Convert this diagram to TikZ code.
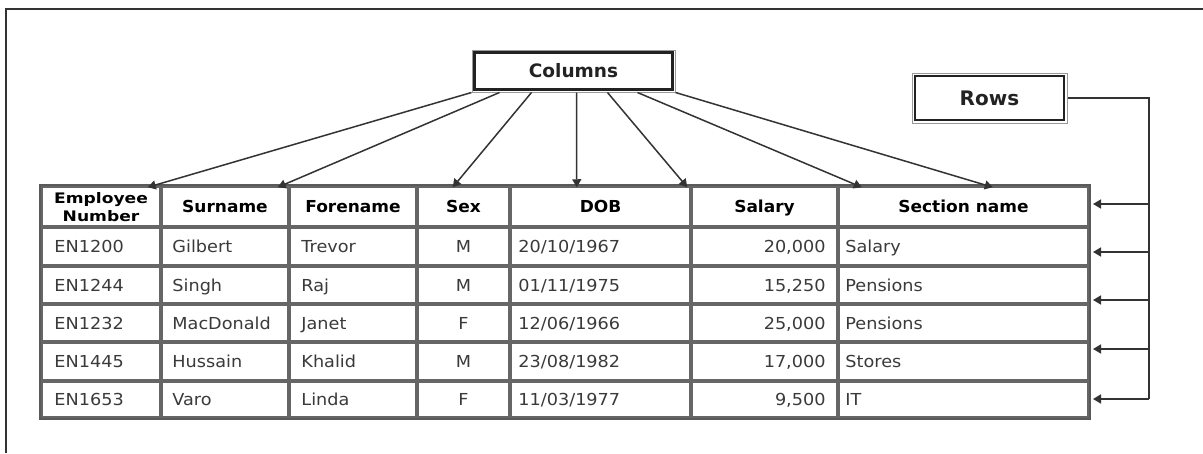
\documentclass[tikz,border=0pt]{standalone}
\usepackage{fontspec}
\setmainfont{DejaVu Sans}
\newfontfamily\datafont{DejaVu Sans}[FakeStretch=1.07]
\newfontfamily\headfont{DejaVu Sans}[FakeStretch=1.03]
\newfontfamily\empfont{DejaVu Sans}[FakeStretch=1.18]
\usetikzlibrary{arrows.meta,fit}

\definecolor{gridgray}{HTML}{666666}
\definecolor{edgegray}{HTML}{5A5A5A}
\definecolor{inkdark}{HTML}{333333}
\definecolor{textdata}{HTML}{3A3A3A}
\definecolor{framegray}{HTML}{9A9A9A}
\definecolor{titleink}{HTML}{222222}

\tikzset{
  cellbox/.style={draw=gridgray, line width=2pt, inner sep=-1.25pt, outer sep=0pt},
  dat/.style={font=\datafont\fontsize{16.5}{19}\selectfont, text=textdata,
    inner sep=0pt, text height=12pt, text depth=0pt},
  hdr/.style={font=\headfont\bfseries\fontsize{16.5}{19}\selectfont, text=black,
    inner sep=0pt, text height=12pt, text depth=0pt},
  empnode/.style={font=\empfont\bfseries\fontsize{14.5}{18}\selectfont, text=black,
    inner sep=0pt, align=center},
  titlebox/.style={draw=framegray, line width=1pt, inner sep=0pt, text depth=0pt,
    text=titleink},
  innerframe/.style={draw=titleink, line width=2.5pt},
  arr/.style={draw=inkdark, line width=1.5pt, -{Triangle[width=9pt,length=8pt]}},
  conn/.style={draw=inkdark, line width=1.5pt},
}

% one table row of seven cells: #1 row id, #2 top, #3 bottom
\newcommand\rowcells[3]{%
  \foreach \i/\xl/\xr in {1/41/161,2/161/289,3/289/417,4/417/510,5/510/691,6/691/838,7/838/1089}
    \node[cellbox, fit={(\xl,#2) (\xr,#3)}] (c#1-\i) {};
}
% the texts of one data row
\newcommand\datarow[8]{%
  \node[dat, anchor=west] (t#1-1) at ([xshift=12pt]c#1-1.west) {#2};
  \node[dat, anchor=west] (t#1-2) at ([xshift=10pt]c#1-2.west) {#3};
  \node[dat, anchor=west] (t#1-3) at ([xshift=11pt]c#1-3.west) {#4};
  \node[dat] (t#1-4) at (c#1-4.center) {#5};
  \node[dat, anchor=west] (t#1-5) at ([xshift=7pt]c#1-5.west) {#6};
  \node[dat, anchor=east] (t#1-6) at ([xshift=-11pt]c#1-6.east) {#7};
  \node[dat, anchor=west] (t#1-7) at ([xshift=6pt]c#1-7.west) {#8};
}

\begin{document}
\begin{tikzpicture}[x=1pt,y=-1pt]
\useasboundingbox (0,0) rectangle (1203,453);
\fill[white] (0,0) rectangle (1203,453);

% frame edges
\draw[inkdark, line width=1.5pt] (6,453) -- (6,9) -- (1203,9);

% title boxes
\node[titlebox, minimum width=203pt, minimum height=42pt, text height=13.5pt,
  font=\bfseries\fontsize{18.5}{22}\selectfont] (cols) at (573.5,71) {Columns};
\draw[innerframe] ([shift={(3pt,-3pt)}]cols.north west) rectangle ([shift={(-3pt,3pt)}]cols.south east);

\node[titlebox, minimum width=155pt, minimum height=50pt, text height=14.6pt,
  font=\bfseries\fontsize{20}{24}\selectfont] (rows) at (989.5,98) {Rows};
\draw[innerframe] ([shift={(3.5pt,-3.5pt)}]rows.north west) rectangle ([shift={(-3.5pt,3.5pt)}]rows.south east);

% table grid
\rowcells{0}{186}{227}
\rowcells{1}{227}{266}
\rowcells{2}{266}{304}
\rowcells{3}{304}{342}
\rowcells{4}{342}{381}
\rowcells{5}{381}{418}
\draw[edgegray, line width=2pt] ([shift={(-2.2pt,2.2pt)}]c0-1.north west) rectangle ([shift={(2.2pt,-2.2pt)}]c5-7.south east);

% header row
\node[empnode] (h1) at ([yshift=-1pt]c0-1.center) {Employee\\Number};
\node[hdr] (h2) at (c0-2.center) {Surname};
\node[hdr] (h3) at (c0-3.center) {Forename};
\node[hdr] (h4) at (c0-4.center) {Sex};
\node[hdr] (h5) at (c0-5.center) {DOB};
\node[hdr] (h6) at (c0-6.center) {Salary};
\node[hdr] (h7) at (c0-7.center) {Section name};

% data rows
\datarow{1}{EN1200}{Gilbert}{Trevor}{M}{20/10/1967}{20,000}{Salary}
\datarow{2}{EN1244}{Singh}{Raj}{M}{01/11/1975}{15,250}{Pensions}
\datarow{3}{EN1232}{MacDonald}{Janet}{F}{12/06/1966}{25,000}{Pensions}
\datarow{4}{EN1445}{Hussain}{Khalid}{M}{23/08/1982}{17,000}{Stores}
\datarow{5}{EN1653}{Varo}{Linda}{F}{11/03/1977}{9,500}{IT}

% column pointers
\draw[arr] (cols.south west) -- ([xshift=105.5pt]c0-1.north west);
\draw[arr] ([xshift=28pt]cols.south west) -- ([xshift=115.5pt]c0-2.north west);
\draw[arr] ([xshift=60pt]cols.south west) -- ([xshift=34.5pt]c0-4.north west);
\draw[arr] ([xshift=105pt]cols.south west) -- ([xshift=65.5pt]c0-5.north west);
\draw[arr] ([xshift=136pt]cols.south west) -- ([xshift=-2.5pt]c0-5.north east);
\draw[arr] ([xshift=166pt]cols.south west) -- ([xshift=22.5pt]c0-7.north west);
\draw[arr] (cols.south east) -- ([xshift=153.5pt]c0-7.north west);

% row pointers
\coordinate (rbot) at (1149,399);
\foreach \j/\yy in {1/204,2/252,3/300,4/349,5/399}
  \coordinate (rt\j) at (1093,\yy);
\draw[conn] (rows.east) -- (rows.east -| rbot) -- (rbot);
\foreach \j in {1,...,5}
  \draw[arr] (rbot |- rt\j) -- (rt\j);
\end{tikzpicture}
\end{document}
